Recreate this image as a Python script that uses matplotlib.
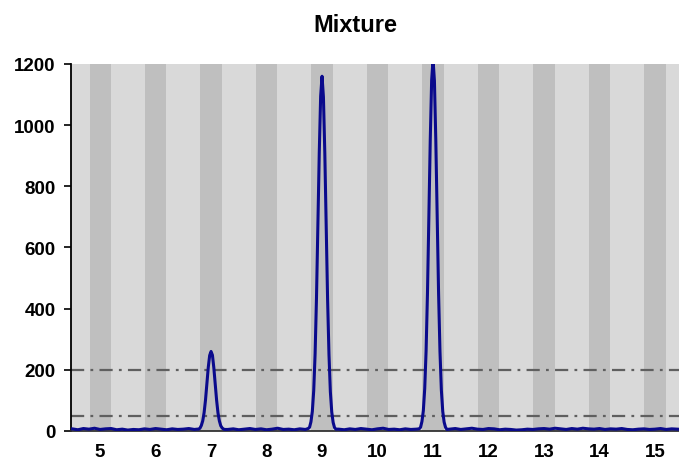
"""
Chromatogram of the mixture with detection thresholds
"""
import matplotlib.pyplot as plt
import numpy as np

plt.rcParams['font.family'] = ['Liberation Sans', 'DejaVu Sans']
plt.rcParams['lines.scale_dashes'] = False

title = 'Mixture'

# retention time (min) and detector signal
rt = [4.4, 4.5, 4.6, 4.7, 4.8, 4.9, 5.0, 5.1, 5.2, 5.3, 5.4, 5.5,
      5.6, 5.7, 5.8, 5.9, 6.0, 6.1, 6.2, 6.3, 6.4, 6.5, 6.6, 6.7,
      6.75, 6.775, 6.8, 6.825, 6.85, 6.875, 6.9, 6.925, 6.95, 6.975, 7.0,
      7.025, 7.05, 7.075, 7.1, 7.125, 7.15, 7.175, 7.2, 7.225, 7.25,
      7.3, 7.4, 7.5, 7.6, 7.7, 7.8, 7.9, 8.0, 8.1, 8.2, 8.3, 8.4, 8.5, 8.6, 8.7,
      8.75, 8.775, 8.8, 8.825, 8.85, 8.875, 8.9, 8.925, 8.95, 8.975, 9.0,
      9.025, 9.05, 9.075, 9.1, 9.125, 9.15, 9.175, 9.2, 9.225, 9.25,
      9.3, 9.4, 9.5, 9.6, 9.7, 9.8, 9.9, 10.0, 10.1, 10.2, 10.3, 10.4, 10.5, 10.6, 10.7,
      10.75, 10.775, 10.8, 10.825, 10.85, 10.875, 10.9, 10.925, 10.95, 10.975, 11.0,
      11.025, 11.05, 11.075, 11.1, 11.125, 11.15, 11.175, 11.2, 11.225, 11.25,
      11.3, 11.4, 11.5, 11.6, 11.7, 11.8, 11.9, 12.0, 12.1, 12.2, 12.3, 12.4,
      12.5, 12.6, 12.7, 12.8, 12.9, 13.0, 13.1, 13.2, 13.3, 13.4, 13.5, 13.6,
      13.7, 13.8, 13.9, 14.0, 14.1, 14.2, 14.3, 14.4, 14.5, 14.6, 14.7, 14.8,
      14.9, 15.0, 15.1, 15.2, 15.3, 15.4, 15.5]
signal = [5, 7, 4, 8, 6, 9, 5, 7, 8, 4, 6, 3,
          5, 4, 7, 5, 8, 6, 4, 7, 5, 6, 8, 5,
          6, 6, 9, 18, 33, 60, 101, 154, 208, 247, 260,
          248, 207, 152, 101, 59, 33, 17, 10, 6, 5,
          5, 7, 4, 6, 8, 5, 7, 4, 6, 9, 5, 6, 4, 7, 5,
          8, 12, 30, 64, 132, 252, 435, 668, 910, 1095, 1160,
          1092, 908, 664, 431, 250, 128, 62, 28, 11, 6,
          6, 4, 7, 5, 8, 6, 4, 7, 9, 5, 6, 4, 7, 5, 6,
          7, 12, 31, 66, 138, 262, 452, 698, 952, 1147, 1215,
          1145, 950, 695, 449, 260, 134, 64, 29, 12, 5,
          6, 8, 5, 7, 9, 6, 5, 8, 7, 4, 6, 5,
          3, 4, 6, 5, 7, 8, 6, 9, 7, 5, 8, 6,
          9, 7, 6, 8, 5, 7, 6, 8, 5, 4, 6, 7,
          5, 6, 8, 5, 7, 6, 5]

thresholds = [200, 50]
bands = [5, 6, 7, 8, 9, 10, 11, 12, 13, 14, 15]
yticks = [0, 200, 400, 600, 800, 1000, 1200]

fig = plt.figure(figsize=(6.79, 4.60), dpi=100)
ax = fig.add_axes([0.1046, 0.0609, 0.8954, 0.7978])
ax.set_facecolor('#d9d9d9')

for b in bands:
    ax.axvspan(b - 0.19, b + 0.19, color='#bfbfbf', lw=0, zorder=0)

for t in thresholds:
    ax.axhline(t, color='#5f5f5f', lw=1.6, dashes=(9.5, 4.5, 2, 4.5), zorder=1)

ax.plot(rt, signal, color='#0a0a8c', lw=2.2, zorder=3)

ax.set_xlim(4.477, 15.432)
ax.set_ylim(0, 1200)
ax.set_xticks(bands)
ax.set_yticks(yticks)
ax.tick_params(axis='x', length=0, pad=9, labelsize=13.5)
ax.tick_params(axis='y', length=5, width=1.2, pad=6, labelsize=13.5, direction='out')
for lab in ax.get_xticklabels() + ax.get_yticklabels():
    lab.set_fontweight('bold')

for s in ['top', 'right']:
    ax.spines[s].set_visible(False)
ax.spines['left'].set_linewidth(1.3)
ax.spines['bottom'].set_linewidth(1.3)
ax.spines['bottom'].set_color('#333333')

fig.text(0.523, 1 - 25 / 460, title, ha='center', va='center',
         fontsize=17, fontweight='bold')

fig.savefig('out.png', dpi=100)
